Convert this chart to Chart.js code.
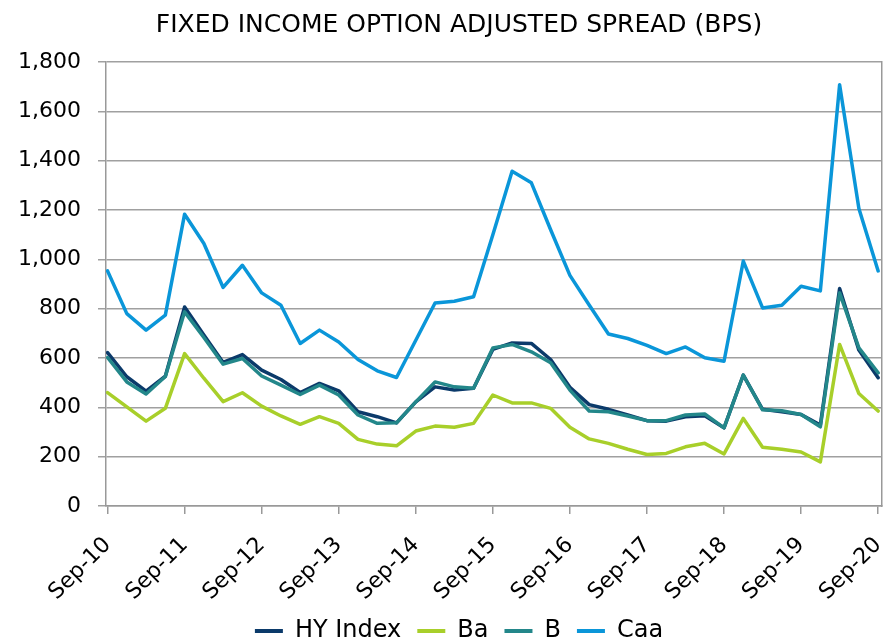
<!DOCTYPE html>
<html>
<head>
<meta charset="utf-8">
<script src="https://cdn.jsdelivr.net/npm/chart.js@4.4.1/dist/chart.umd.min.js"></script>
<style>
  html, body { margin: 0; padding: 0; background: #ffffff; }
  #wrap { width: 884px; height: 643px; }
</style>
</head>
<body>
<div id="wrap"><canvas id="c" width="884" height="643"></canvas></div>
<script>
// ---- Data (quarterly) ----
const quarters = ['Sep-10','Dec-10','Mar-11','Jun-11','Sep-11','Dec-11','Mar-12','Jun-12',
  'Sep-12','Dec-12','Mar-13','Jun-13','Sep-13','Dec-13','Mar-14','Jun-14',
  'Sep-14','Dec-14','Mar-15','Jun-15','Sep-15','Dec-15','Mar-16','Jun-16',
  'Sep-16','Dec-16','Mar-17','Jun-17','Sep-17','Dec-17','Mar-18','Jun-18',
  'Sep-18','Dec-18','Mar-19','Jun-19','Sep-19','Dec-19','Mar-20','Jun-20','Sep-20'];

const hyIndex = [622,524,466,526,807,693,582,614,551,513,460,497,467,382,362,337,
  422,483,470,477,635,661,659,594,481,411,392,369,346,344,362,366,
  317,531,392,382,371,328,882,632,520];

const ba = [460,402,344,396,618,518,423,459,405,365,331,362,335,270,251,244,
  304,324,319,335,450,418,418,396,319,272,254,230,209,213,240,254,
  211,355,238,230,219,179,655,456,385];

const b = [602,503,454,525,787,683,575,598,527,490,452,490,450,369,335,337,
  422,503,483,477,641,655,625,581,470,385,382,365,346,346,369,373,
  317,531,390,386,371,321,864,641,540];

const caa = [953,780,713,774,1183,1064,886,976,864,814,659,713,665,594,548,521,
  672,823,830,848,1100,1357,1310,1120,935,815,697,679,651,618,645,601,
  587,993,803,814,891,872,1708,1206,953];

const xTickLabels = ['Sep-10','Sep-11','Sep-12','Sep-13','Sep-14','Sep-15','Sep-16','Sep-17','Sep-18','Sep-19','Sep-20'];
const yTickValues = [0,200,400,600,800,1000,1200,1400,1600,1800];

// ---- Styling ----
const FONT = "'DejaVu Sans', Verdana, sans-serif";
const COLORS = { hy: '#0b3a6a', ba: '#a8cf2a', b: '#23878a', caa: '#0a96d9' };
const GRID = '#a0a0a0';

const toXY = arr => arr.map((v, i) => ({ x: i, y: v }));
const xTickIdx = xTickLabels.map(l => quarters.indexOf(l));

const ds = (label, arr, color, order) => ({
  label, data: toXY(arr), borderColor: color, backgroundColor: color, order,
  borderWidth: 3.5, pointRadius: 0, tension: 0, fill: false,
  borderJoinStyle: 'round', borderCapStyle: 'round'
});

new Chart(document.getElementById('c').getContext('2d'), {
  type: 'line',
  data: {
    datasets: [
      ds('HY Index', hyIndex, COLORS.hy, 4),
      ds('Ba', ba, COLORS.ba, 3),
      ds('B', b, COLORS.b, 2),
      ds('Caa', caa, COLORS.caa, 1)
    ]
  },
  options: {
    responsive: false,
    animation: false,
    devicePixelRatio: 1,
    layout: { padding: { left: 36, right: 2, top: 0, bottom: -10 } },
    plugins: {
      title: {
        display: true,
        text: 'FIXED INCOME OPTION ADJUSTED SPREAD (BPS)',
        color: '#000',
        font: { family: FONT, size: 25, weight: 'normal' },
        padding: { top: 10, bottom: 22 }
      },
      legend: {
        position: 'bottom',
        labels: {
          color: '#000',
          font: { family: FONT, size: 24 },
          boxWidth: 28,
          boxHeight: 4,
          padding: 16,
          sort: (a, c) => a.datasetIndex - c.datasetIndex,
          generateLabels: chart => Chart.defaults.plugins.legend.labels.generateLabels(chart)
            .map(l => Object.assign(l, { lineWidth: 0 }))
        }
      },
      tooltip: { enabled: false }
    },
    scales: {
      x: {
        type: 'linear',
        min: -0.08,
        max: 40.2,
        afterBuildTicks: s => { s.ticks = xTickIdx.map(v => ({ value: v })); },
        afterFit: s => { s.height = 97; s.paddingLeft = 0; s.paddingRight = 0; },
        grid: { drawOnChartArea: false, drawTicks: true, tickLength: 8, color: '#999', lineWidth: 1.5 },
        border: { color: '#999', width: 1.5 },
        ticks: {
          color: '#000',
          font: { family: FONT, size: 22, lineHeight: 1.1 },
          minRotation: 45, maxRotation: 45,
          padding: 19,
          autoSkip: false,
          callback: v => quarters[v]
        }
      },
      y: {
        min: 0,
        max: 1800,
        afterBuildTicks: s => { s.ticks = yTickValues.map(v => ({ value: v })); },
        afterFit: s => { s.width = 70; s.paddingTop = 0; s.paddingBottom = 0; s._computeLabelArea = () => undefined; },
        grid: { color: GRID, lineWidth: 1.5, tickLength: 8, drawTicks: true },
        border: { color: '#999', width: 1.5 },
        ticks: {
          color: '#000',
          font: { family: FONT, size: 22 },
          padding: 17,
          callback: v => v.toLocaleString('en-US')
        }
      },
      yRight: {
        position: 'right',
        display: true,
        grid: { drawOnChartArea: false, drawTicks: false },
        ticks: { display: false },
        border: { color: '#999', width: 1.5 }
      }
    }
  }
});
</script>
</body>
</html>
